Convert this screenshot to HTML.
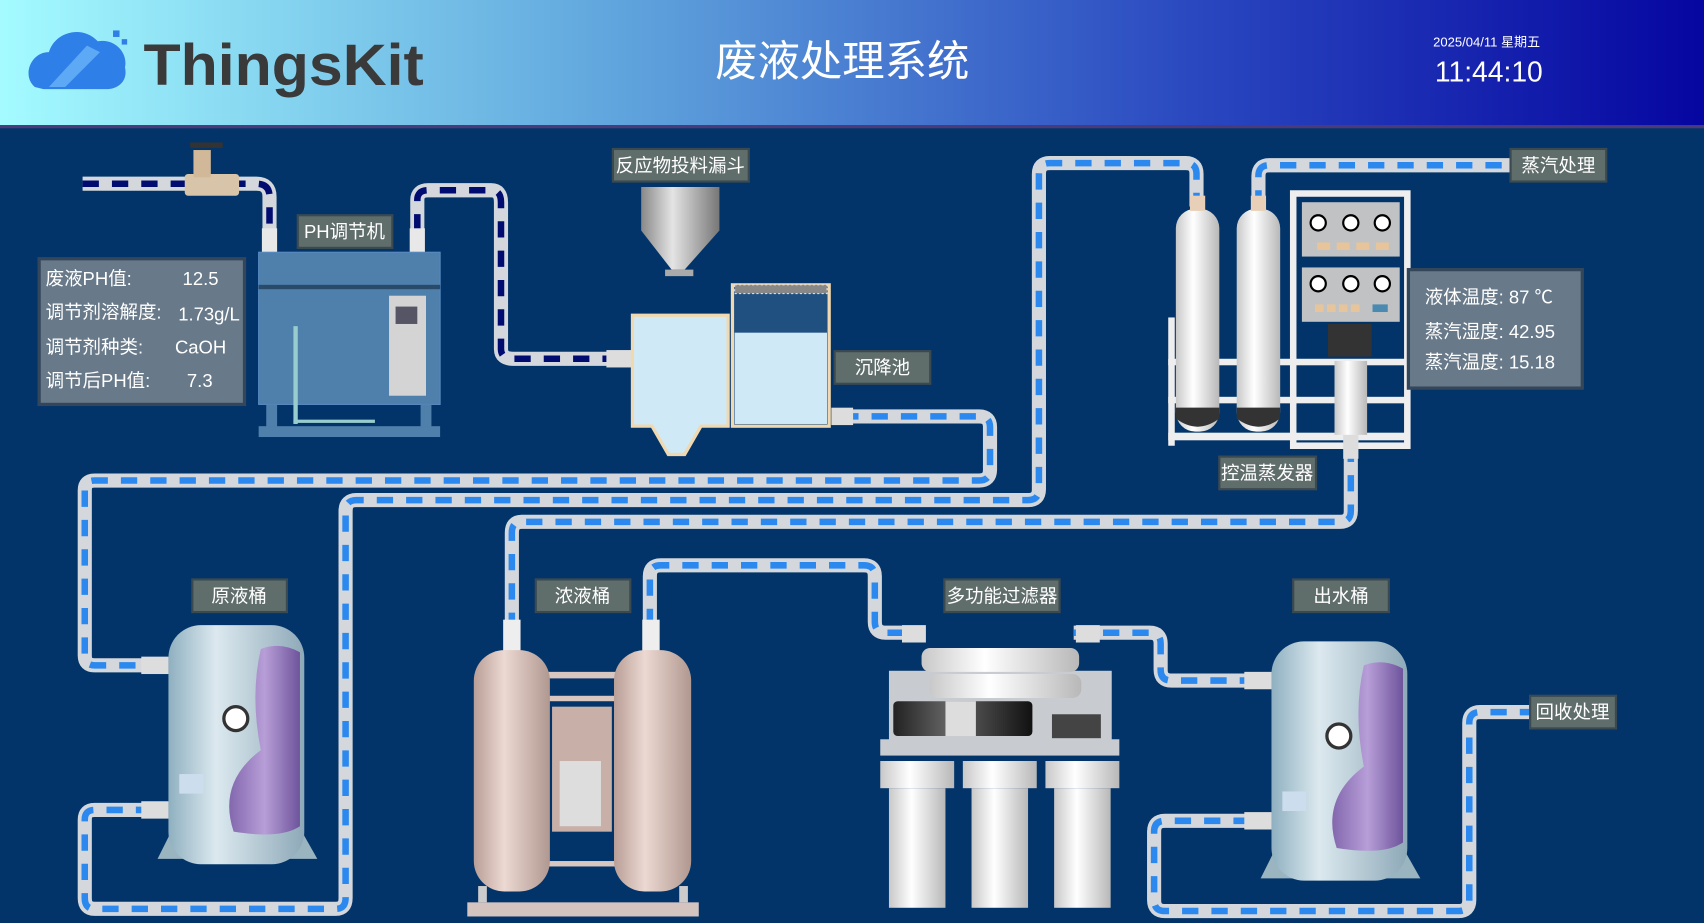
<!DOCTYPE html>
<html><head><meta charset="utf-8"><style>
html,body{margin:0;padding:0;width:1704px;height:923px;overflow:hidden;background:#02346a;}
svg{display:block}
text{font-family:"Liberation Sans","Noto Sans CJK SC",sans-serif;}
</style></head><body>
<svg width="1704" height="923" viewBox="0 0 1568 849" preserveAspectRatio="none" xmlns="http://www.w3.org/2000/svg">
<defs>
<linearGradient id="hdr" x1="0" x2="1" y1="0" y2="0"><stop offset="0" stop-color="#a4fbff"/><stop offset="0.35" stop-color="#62a8de"/><stop offset="0.7" stop-color="#2a48c0"/><stop offset="1" stop-color="#0606a0"/></linearGradient>
<linearGradient id="steel" x1="0" x2="1"><stop offset="0" stop-color="#8fb0c0"/><stop offset="0.35" stop-color="#dce9ef"/><stop offset="1" stop-color="#8ea9b8"/></linearGradient>
<linearGradient id="white" x1="0" x2="1"><stop offset="0" stop-color="#c8c8c8"/><stop offset="0.4" stop-color="#ffffff"/><stop offset="1" stop-color="#b8b8b8"/></linearGradient>
<linearGradient id="pink" x1="0" x2="1"><stop offset="0" stop-color="#b89e96"/><stop offset="0.4" stop-color="#ecd9d2"/><stop offset="1" stop-color="#b09890"/></linearGradient>
<linearGradient id="grayc" x1="0" x2="1"><stop offset="0" stop-color="#888"/><stop offset="0.4" stop-color="#e4e4e4"/><stop offset="1" stop-color="#777"/></linearGradient>
<linearGradient id="purp" x1="0" x2="1"><stop offset="0" stop-color="#7a5aa8"/><stop offset="0.5" stop-color="#b89ad8"/><stop offset="1" stop-color="#6a4a98"/></linearGradient>
<linearGradient id="blk" x1="0" x2="1"><stop offset="0" stop-color="#222"/><stop offset="0.4" stop-color="#666"/><stop offset="1" stop-color="#111"/></linearGradient>
</defs>
<rect x="0" y="0" width="1568" height="116" fill="url(#hdr)"/>
<rect x="0" y="115" width="1568" height="3" fill="#4a3a7a"/>
<path d="M32,80 C20,70 28,48 45,48 C50,30 75,22 90,38 C105,35 118,48 115,62 C118,75 108,82 98,82 L40,82 Z" fill="#2f7fe8"/>
<path d="M45,80 L80,42 L92,48 L60,80 Z" fill="#7ec4ff" opacity="0.6"/>
<rect x="104" y="28" width="6" height="6" fill="#2f7fe8"/><rect x="112" y="36" width="5" height="5" fill="#2f7fe8"/>
<text x="132" y="78" font-size="54" font-weight="bold" fill="#3a3a3a" textLength="258" lengthAdjust="spacingAndGlyphs">ThingsKit</text>
<text x="775" y="70" font-size="39" fill="#fff" text-anchor="middle">废液处理系统</text>
<text x="1368" y="43" font-size="12" fill="#fff" text-anchor="middle">2025/04/11 星期五</text>
<text x="1370" y="75" font-size="26" fill="#fff" text-anchor="middle">11:44:10</text>

<g fill="none" stroke-linejoin="round" stroke-linecap="butt">
<g stroke="#d4d8dc" stroke-width="13">
<path d="M76,169 H236 Q248,169 248,181 V212"/>
<path d="M384,212 V184 Q384,175 394,175 H452 Q461,175 461,186 V321 Q461,330 472,330 H572"/>
<path d="M775,383 H901 Q911,383 911,393 V432 Q911,442 901,442 H87 Q78,442 78,451 V603 Q78,612 87,612 H140"/>
<path d="M140,745 H87 Q78,745 78,754 V826 Q78,836 87,836 H309 Q318,836 318,826 V470 Q318,460 328,460 H946 Q956,460 956,450 V160 Q956,150 966,150 H1091 Q1101,150 1101,160 V190"/>
<path d="M1158,190 V162 Q1158,152 1168,152 H1392"/>
<path d="M1243,410 V470 Q1243,480 1233,480 H480 Q471,480 471,490 V575"/>
<path d="M598,575 V530 Q598,520 608,520 H795 Q805,520 805,530 V572 Q805,582 815,582 H832"/>
<path d="M988,582 H1058 Q1068,582 1068,592 V616 Q1068,626 1078,626 H1150"/>
<path d="M1150,755 H1072 Q1062,755 1062,765 V828 Q1062,838 1072,838 H1342 Q1352,838 1352,828 V665 Q1352,655 1362,655 H1410"/>
</g>
<g stroke-width="6" stroke-dasharray="15 12">
<path stroke="#000c70" d="M76,169 H236 Q248,169 248,181 V212"/>
<path stroke="#000c70" d="M384,212 V184 Q384,175 394,175 H452 Q461,175 461,186 V321 Q461,330 472,330 H572"/>
<g stroke="#2a88ee">
<path d="M775,383 H901 Q911,383 911,393 V432 Q911,442 901,442 H87 Q78,442 78,451 V603 Q78,612 87,612 H140"/>
<path d="M140,745 H87 Q78,745 78,754 V826 Q78,836 87,836 H309 Q318,836 318,826 V470 Q318,460 328,460 H946 Q956,460 956,450 V160 Q956,150 966,150 H1091 Q1101,150 1101,160 V190"/>
<path d="M1158,190 V162 Q1158,152 1168,152 H1392"/>
<path d="M1243,410 V470 Q1243,480 1233,480 H480 Q471,480 471,490 V575"/>
<path d="M598,575 V530 Q598,520 608,520 H795 Q805,520 805,530 V572 Q805,582 815,582 H832"/>
<path d="M988,582 H1058 Q1068,582 1068,592 V616 Q1068,626 1078,626 H1150"/>
<path d="M1150,755 H1072 Q1062,755 1062,765 V828 Q1062,838 1072,838 H1342 Q1352,838 1352,828 V665 Q1352,655 1362,655 H1410"/>
</g></g></g>

<rect x="170" y="160" width="50" height="20" rx="3" fill="#d8c4a8"/>
<rect x="178" y="138" width="16" height="25" fill="#d0b898"/>
<rect x="175" y="131" width="30" height="5" fill="#333"/>
<rect x="241" y="210" width="14" height="24" fill="#e8e8e8"/><rect x="377" y="210" width="14" height="24" fill="#e8e8e8"/>
<rect x="238" y="232" width="167" height="140" fill="#4f7fab" stroke="#5a8ac0"/>
<rect x="238" y="262" width="167" height="4" fill="#2a4a6a"/>
<rect x="358" y="272" width="34" height="92" fill="#d4d4d4"/><rect x="364" y="282" width="20" height="16" fill="#556"/>
<rect x="245" y="372" width="10" height="22" fill="#4f7fab"/><rect x="387" y="372" width="10" height="22" fill="#4f7fab"/>
<rect x="238" y="392" width="167" height="10" fill="#4f7fab"/>
<rect x="270" y="300" width="4" height="90" fill="#9cc"/><rect x="270" y="386" width="75" height="3" fill="#9cc"/>
<rect x="36" y="238" width="189" height="134" fill="#687989" stroke="#34465a" stroke-width="3"/>
<g font-size="17" fill="#fff">
<text x="42" y="262">废液PH值:</text><text x="168" y="262">12.5</text>
<text x="42" y="293">调节剂溶解度:</text><text x="164" y="295">1.73g/L</text>
<text x="42" y="325">调节剂种类:</text><text x="161" y="325">CaOH</text>
<text x="42" y="356">调节后PH值:</text><text x="172" y="356">7.3</text>
</g>
<path d="M590,172 H662 V212 L630,248 H618 L590,212 Z" fill="url(#grayc)"/>
<rect x="612" y="248" width="26" height="6" fill="#aaa"/>
<rect x="558" y="322" width="24" height="16" fill="#ddd"/>
<path d="M582,290 H670 V392 H645 L630,418 H615 L600,392 H582 Z" fill="#cfeaf6" stroke="#f0d8b0" stroke-width="3"/>
<rect x="674" y="262" width="89" height="130" fill="#1f5080" stroke="#f0d8b0" stroke-width="3"/>
<rect x="676" y="306" width="85" height="84" fill="#cfeaf6"/>
<rect x="676" y="262" width="85" height="8" fill="#888" stroke="#ddd" stroke-dasharray="2 2"/>
<rect x="765" y="375" width="20" height="16" fill="#ddd"/>
<rect x="1075" y="292" width="6" height="118" fill="#eee"/>
<rect x="1190" y="178" width="105" height="232" fill="none" stroke="#eee" stroke-width="6"/>
<rect x="1075" y="330" width="220" height="6" fill="#eee"/><rect x="1075" y="365" width="220" height="6" fill="#eee"/><rect x="1075" y="398" width="220" height="7" fill="#eee"/>
<rect x="1198" y="186" width="90" height="50" fill="#c0c2c4"/><rect x="1198" y="246" width="90" height="50" fill="#c0c2c4"/>
<g fill="#fff" stroke="#000" stroke-width="2">
<circle cx="1213" cy="205" r="7"/><circle cx="1243" cy="205" r="7"/><circle cx="1272" cy="205" r="7"/>
<circle cx="1213" cy="261" r="7"/><circle cx="1243" cy="261" r="7"/><circle cx="1272" cy="261" r="7"/></g>
<g fill="#e8c49a"><rect x="1212" y="223" width="12" height="7"/><rect x="1230" y="223" width="12" height="7"/><rect x="1248" y="223" width="12" height="7"/><rect x="1266" y="223" width="12" height="7"/>
<rect x="1210" y="280" width="8" height="7"/><rect x="1221" y="280" width="8" height="7"/><rect x="1232" y="280" width="8" height="7"/><rect x="1243" y="280" width="8" height="7"/></g>
<rect x="1263" y="280" width="14" height="7" fill="#4a8ab0"/>
<rect x="1222" y="298" width="40" height="30" fill="#333"/>
<rect x="1228" y="332" width="30" height="68" fill="url(#white)"/>
<rect x="1236" y="400" width="14" height="22" fill="#ddd"/>
<rect x="1082" y="192" width="40" height="205" rx="18" fill="url(#white)"/><path d="M1082,375 H1122 V385 Q1102,400 1082,385 Z" fill="#333"/>
<rect x="1138" y="192" width="40" height="205" rx="18" fill="url(#white)"/><path d="M1138,375 H1178 V385 Q1158,400 1138,385 Z" fill="#333"/>
<rect x="1095" y="180" width="14" height="14" fill="#e8d0b8"/><rect x="1151" y="180" width="14" height="14" fill="#e8d0b8"/>
<rect x="1296" y="248" width="160" height="109" fill="#687989" stroke="#34465a" stroke-width="3"/>
<g font-size="17" fill="#fff"><text x="1311" y="279">液体温度: 87 ℃</text><text x="1311" y="311">蒸汽湿度: 42.95</text><text x="1311" y="339">蒸汽温度: 15.18</text></g>
<path d="M145,790 L160,760 H275 L292,790 Z" fill="#9ab4c0"/>
<rect x="155" y="575" width="125" height="220" rx="30" fill="url(#steel)"/>
<path d="M240,597 Q258,590 276,600 V760 Q258,772 215,765 Q200,720 240,690 Q230,640 240,597 Z" fill="url(#purp)" opacity="0.9"/>
<circle cx="217" cy="661" r="11" fill="#fff" stroke="#333" stroke-width="3"/>
<rect x="130" y="604" width="25" height="16" fill="#ddd"/><rect x="130" y="737" width="25" height="16" fill="#ddd"/>
<rect x="165" y="712" width="22" height="18" fill="#cde"/>
<path d="M1160,808 L1175,778 H1290 L1307,808 Z" fill="#9ab4c0"/>
<rect x="1170" y="590" width="125" height="220" rx="30" fill="url(#steel)"/>
<path d="M1255,612 Q1273,605 1291,615 V775 Q1273,787 1230,780 Q1215,735 1255,705 Q1245,655 1255,612 Z" fill="url(#purp)" opacity="0.9"/>
<circle cx="1232" cy="677" r="11" fill="#fff" stroke="#333" stroke-width="3"/>
<rect x="1145" y="618" width="25" height="16" fill="#ddd"/><rect x="1145" y="747" width="25" height="16" fill="#ddd"/>
<rect x="1180" y="728" width="22" height="18" fill="#cde"/>
<rect x="463" y="570" width="16" height="30" fill="#eee"/><rect x="591" y="570" width="16" height="30" fill="#eee"/>
<rect x="500" y="618" width="70" height="6" fill="#d8c6c0"/><rect x="500" y="640" width="70" height="5" fill="#d8c6c0"/><rect x="500" y="792" width="70" height="5" fill="#d8c6c0"/>
<rect x="508" y="650" width="55" height="115" fill="#c8b0a8"/>
<rect x="515" y="700" width="38" height="60" fill="#ddd"/>
<rect x="436" y="598" width="70" height="222" rx="28" fill="url(#pink)"/>
<rect x="565" y="598" width="71" height="222" rx="28" fill="url(#pink)"/>
<rect x="440" y="815" width="8" height="15" fill="#ccc"/><rect x="625" y="815" width="8" height="15" fill="#ccc"/>
<rect x="430" y="830" width="213" height="13" fill="#d4c4c0"/>
<rect x="818" y="617" width="205" height="65" fill="#c8ccd0"/>
<rect x="848" y="596" width="145" height="22" rx="8" fill="url(#white)"/>
<rect x="855" y="620" width="140" height="22" rx="8" fill="url(#white)"/>
<rect x="822" y="645" width="128" height="32" rx="4" fill="url(#blk)"/><rect x="870" y="645" width="28" height="32" fill="#ddd"/>
<rect x="968" y="657" width="45" height="22" fill="#444"/>
<rect x="810" y="680" width="220" height="15" fill="#c8ccd0"/>
<rect x="810" y="700" width="68" height="25" fill="url(#white)"/><rect x="886" y="700" width="68" height="25" fill="url(#white)"/><rect x="962" y="700" width="68" height="25" fill="url(#white)"/>
<rect x="818" y="725" width="52" height="110" fill="url(#white)"/><rect x="894" y="725" width="52" height="110" fill="url(#white)"/><rect x="970" y="725" width="52" height="110" fill="url(#white)"/>
<rect x="830" y="575" width="22" height="16" fill="#ddd"/><rect x="990" y="575" width="22" height="16" fill="#ddd"/>
<g fill="#5f6d6b" stroke="#3b4a50" stroke-width="2">
<rect x="274" y="198" width="87" height="30"/><rect x="564" y="137" width="125" height="30"/>
<rect x="768" y="323" width="88" height="30"/><rect x="1390" y="137" width="88" height="30"/>
<rect x="1122" y="420" width="89" height="30"/><rect x="177" y="533" width="87" height="30"/>
<rect x="493" y="533" width="87" height="30"/><rect x="869" y="533" width="106" height="30"/>
<rect x="1190" y="533" width="88" height="30"/><rect x="1408" y="640" width="79" height="30"/>
</g>
<g font-size="17" fill="#fff" text-anchor="middle">
<text x="317" y="219">PH调节机</text><text x="626" y="158">反应物投料漏斗</text>
<text x="812" y="344">沉降池</text><text x="1434" y="158">蒸汽处理</text>
<text x="1166" y="441">控温蒸发器</text><text x="220" y="554">原液桶</text>
<text x="536" y="554">浓液桶</text><text x="922" y="554">多功能过滤器</text>
<text x="1234" y="554">出水桶</text><text x="1447" y="661">回收处理</text>
</g>
</svg>
</body></html>
